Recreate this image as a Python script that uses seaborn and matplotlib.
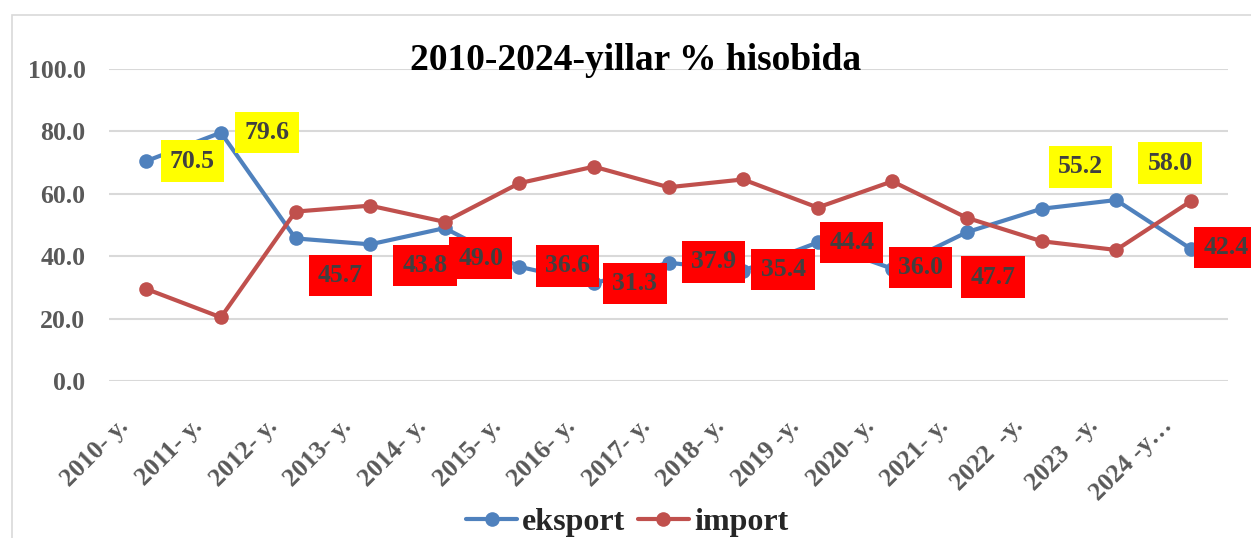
import matplotlib
matplotlib.use('Agg')
import matplotlib.pyplot as plt
import matplotlib.patches as patches
import matplotlib.transforms as mtransforms
import seaborn as sns
import pandas as pd

# Data
years = ['2010- y.', '2011- y.', '2012- y.', '2013- y.', '2014- y.', '2015- y.',
         '2016- y.', '2017- y.', '2018- y.', '2019 -y.', '2020- y.', '2021- y.',
         '2022  -y.', '2023  -y.', '2024 -y…']
eksport = [70.5, 79.6, 45.7, 43.8, 49.0, 36.6, 31.3, 37.9, 35.4, 44.4, 36.0, 47.7, 55.2, 58.0, 42.4]
importv = [29.5, 20.4, 54.3, 56.2, 51.0, 63.4, 68.7, 62.1, 64.6, 55.6, 64.0, 52.3, 44.8, 42.0, 57.6]

# label styling (box colour and pixel offsets from the point)
label_colors = ['#FFFF00', '#FFFF00'] + ['#FF0000'] * 10 + ['#FFFF00', '#FFFF00', '#FF0000']
label_offsets = [(46, 0), (46, 0), (45, -37), (55, -21), (36, -30), (48, 1), (41, 0),
                 (45, 1), (40, 1), (34, 0), (28, 1), (26, -45), (39, 42), (54, 37), (35, 1)]

df = pd.DataFrame({'x': range(len(years)), 'eksport': eksport, 'import': importv})

sns.set_style('white')
plt.rcParams['font.family'] = ['Liberation Serif', 'DejaVu Serif']
plt.rcParams['font.weight'] = 'bold'

fig = plt.figure(figsize=(12.51, 5.38), dpi=100)
ax = fig.add_axes([109 / 1251, 1 - 381 / 538, 1119 / 1251, 312 / 538])

# outer chart frame
fig.patches.append(patches.Rectangle((12 / 1251, -0.1), 1.2, 1.1 - 15 / 538,
                                     transform=fig.transFigure, fill=False,
                                     edgecolor='#d9d9d9', linewidth=1.2))

sns.lineplot(data=df, x='x', y='eksport', ax=ax, color='#4F81BD', linewidth=3,
             marker='o', markersize=10.5, markeredgewidth=0, label='eksport')
sns.lineplot(data=df, x='x', y='import', ax=ax, color='#C0504D', linewidth=3,
             marker='o', markersize=10.5, markeredgewidth=0, label='import')

for i, v in enumerate(eksport):
    dx, dy = label_offsets[i]
    ax.annotate(f'{v:.1f}', (i, v), xytext=(dx, dy), textcoords='offset pixels',
                ha='center', va='center', fontsize=18.5, fontweight='bold', color='#404040',
                bbox=dict(boxstyle='square,pad=0.36', facecolor=label_colors[i], edgecolor='none'),
                zorder=5)

ax.set_xlim(-0.5, len(years) - 0.5)
ax.set_ylim(0, 100)
ax.set_yticks([0, 20, 40, 60, 80, 100])
ax.set_yticklabels([f'{t:.1f}' for t in [0, 20, 40, 60, 80, 100]])
ax.set_xticks(range(len(years)))
ax.set_xticklabels(years, rotation=45, ha='right', rotation_mode='anchor')
ax.tick_params(axis='both', length=0, labelsize=18.5, labelcolor='#595959')
ax.tick_params(axis='x', pad=24)
ax.tick_params(axis='y', pad=17)
shift = mtransforms.ScaledTranslation(-30 / 100, 0, fig.dpi_scale_trans)
for lab in ax.get_xticklabels():
    lab.set_transform(lab.get_transform() + shift)
for lab in ax.get_xticklabels() + ax.get_yticklabels():
    lab.set_fontweight('bold')
ax.grid(axis='y', color='#d9d9d9', linewidth=1.5)
ax.grid(axis='x', visible=False)
ax.set_axisbelow(True)
for s in ax.spines.values():
    s.set_visible(False)
ax.set_xlabel('')
ax.set_ylabel('')

fig.text(636 / 1251, 1 - 60 / 538, '2010-2024-yillar % hisobida', ha='center', va='center',
         fontsize=27, fontweight='bold', color='black')

ax.legend(loc='center', bbox_to_anchor=(627 / 1251, 1 - 522 / 538),
          bbox_transform=fig.transFigure, ncol=2, frameon=False,
          prop={'size': 23, 'weight': 'bold'}, handlelength=1.6, columnspacing=0.4,
          handletextpad=0.15)

fig.savefig('out.png', dpi=100)
